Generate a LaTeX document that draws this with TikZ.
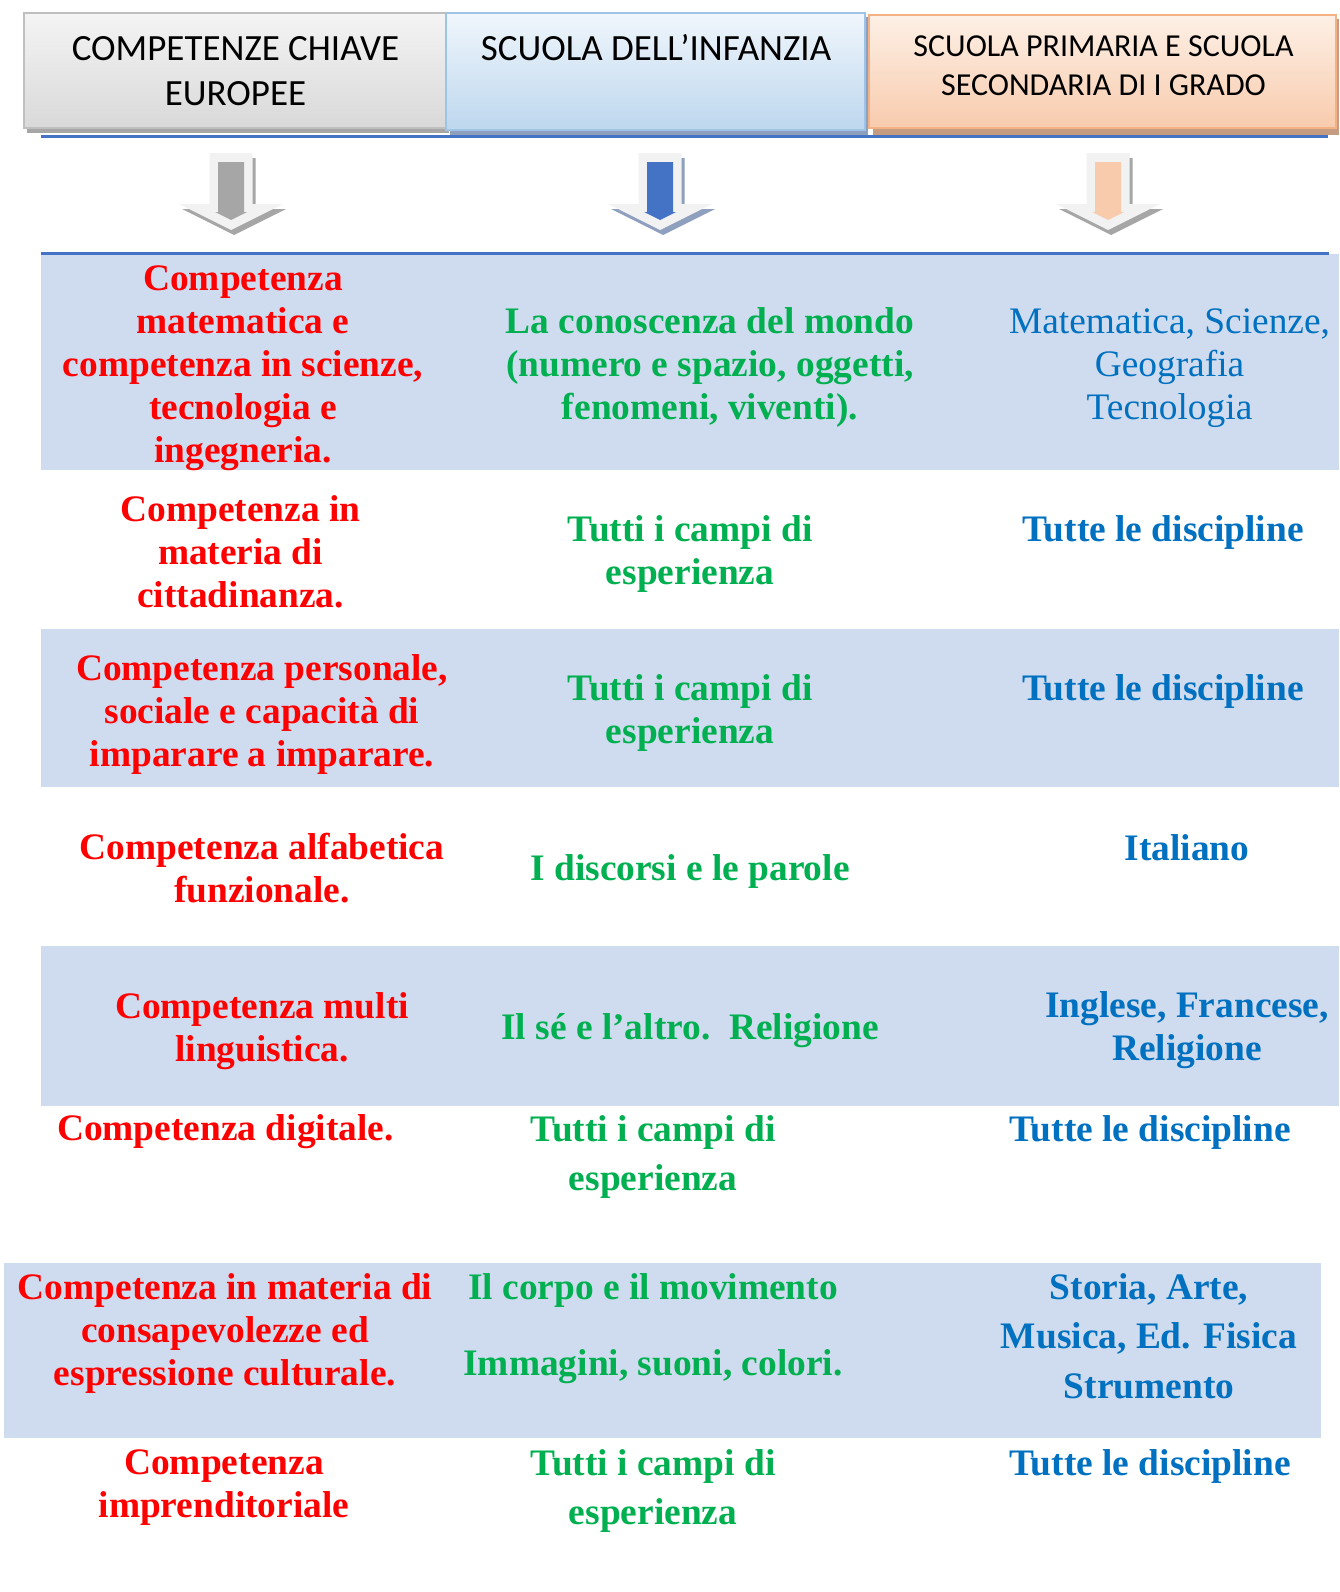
\documentclass[tikz,border=0pt]{standalone}
\usepackage{fontspec}
\setmainfont{Liberation Serif}
\newfontfamily\hdrfont{Carlito}
\definecolor{cred}{HTML}{FF0000}
\definecolor{cgreen}{HTML}{00B050}
\definecolor{cblue}{HTML}{0070C0}
\definecolor{band}{RGB}{207,219,238}
\definecolor{rule}{HTML}{4472C4}
\definecolor{arrowbg}{HTML}{F2F2F2}
\definecolor{shgray}{RGB}{166,166,166}
\definecolor{shblue}{RGB}{142,160,190}
\definecolor{shbrown}{RGB}{197,156,130}
\definecolor{peach}{RGB}{248,203,173}
\definecolor{hAtop}{RGB}{244,244,244}
\definecolor{hAbot}{RGB}{217,217,217}
\definecolor{hAbrd}{RGB}{191,191,191}
\definecolor{hBtop}{RGB}{240,246,252}
\definecolor{hBbot}{RGB}{189,215,238}
\definecolor{hBbrd}{RGB}{157,195,230}
\definecolor{hCtop}{RGB}{253,240,230}
\definecolor{hCbot}{RGB}{248,203,173}
\definecolor{hCbrd}{RGB}{244,177,131}
\newcommand\myarrow[3]{%
  \begin{scope}[shift={(#1,0)}]
    \fill[#2] (-18.5,158) -- (24.5,158) -- (24.5,209) -- (55,209) -- (3,235) -- (-49,209) -- (-18.5,209) -- cycle;
    \fill[arrowbg] (-21.5,153) -- (21.5,153) -- (21.5,204) -- (52,204) -- (0,230) -- (-52,204) -- (-21.5,204) -- cycle;
    \fill[#3] (-13,162) -- (13,162) -- (13,212) -- (16,212) -- (0,220) -- (-16,212) -- (-13,212) -- cycle;
  \end{scope}}
\begin{document}
\begin{tikzpicture}[x=1pt,y=-1pt,
  every node/.style={inner sep=0pt},
  kc/.style={text=cred, align=center, font=\bfseries\fontsize{37.4}{43}\selectfont},
  inf/.style={text=cgreen, align=center, font=\bfseries\fontsize{37.4}{43}\selectfont},
  infw/.style={text=cgreen, align=center, font=\bfseries\fontsize{37.4}{49.7}\selectfont},
  prim/.style={text=cblue, align=center, font=\bfseries\fontsize{37.4}{43}\selectfont},
  primw/.style={text=cblue, align=center, font=\bfseries\fontsize{37.4}{49.7}\selectfont},
  primreg/.style={text=cblue, align=center, font=\fontsize{37.4}{43}\selectfont},
  hdr/.style={text=black, align=center, font=\hdrfont\fontsize{37}{45}\selectfont},
  hdrs/.style={text=black, align=center, font=\hdrfont\fontsize{32}{38.6}\selectfont}]
\useasboundingbox (0,0) rectangle (1339,1592);
\fill[white] (0,0) rectangle (1339,1592);
% header shadows
\fill[shgray] (27,17) rectangle (449,133);
\fill[shblue] (450,17) rectangle (868,135);
\fill[shbrown] (873,19) rectangle (1339,135);
% header boxes
\shade[top color=hAtop, bottom color=hAbot] (24,13) rectangle (446,128);
\draw[hAbrd, line width=2pt] (24,13) rectangle (446,128);
\shade[top color=hBtop, bottom color=hBbot] (446,13) rectangle (865,130);
\draw[hBbrd, line width=2pt] (446,13) rectangle (865,130);
\shade[top color=hCtop, bottom color=hCbot] (869,15) rectangle (1336,128);
\draw[hCbrd, line width=2pt] (869,15) rectangle (1336,128);
\node[hdr] (h1) at (235.5,71) {COMPETENZE CHIAVE\\EUROPEE};
\node[hdr] (h2) at (656,48) {SCUOLA DELL’INFANZIA};
\node[hdrs] (h3) at (1103.5,66) {SCUOLA PRIMARIA E SCUOLA\\SECONDARIA DI I GRADO};
% rule lines
\draw[rule, line width=3pt] (41,137) -- (1328,137);
% arrows
\myarrow{231}{shgray}{shgray}
\myarrow{660}{shblue}{rule}
\myarrow{1108}{shgray}{peach}
% bands
\fill[band] (41,254) rectangle (1339,470);
\fill[band] (41,629) rectangle (1339,787);
\fill[band] (41,946) rectangle (1339,1106);
\fill[band] (4,1263) rectangle (1321,1438);
\draw[rule, line width=3pt] (41,253) -- (1329,253);
% row 1
\node[kc] (r1) at (243,368) {Competenza\\matematica e\\competenza in scienze,\\tecnologia e\\ingegneria.};
\node[inf] (g1) at (710,368) {La conoscenza del mondo\\(numero e spazio, oggetti,\\fenomeni, viventi).};
\node[primreg] (b1) at (1169.5,368) {Matematica, Scienze,\\Geografia\\Tecnologia};
% row 2
\node[kc] (r2) at (240.6,551.5) {Competenza in\\materia di\\cittadinanza.};
\node[inf] (g2) at (690,554) {Tutti i campi di\\esperienza};
\node[prim] (b2) at (1163,533) {Tutte le discipline};
% row 3
\node[kc] (r3) at (262,714) {Competenza personale,\\sociale e capacità di\\imparare a imparare.};
\node[inf] (g3) at (690,713) {Tutti i campi di\\esperienza};
\node[prim] (b3) at (1163,691) {Tutte le discipline};
% row 4
\node[kc] (r4) at (262,868.5) {Competenza alfabetica\\funzionale.};
\node[inf] (g4) at (690,871) {I discorsi e le parole};
\node[prim] (b4) at (1187,847.5) {Italiano};
% row 5
\node[kc] (r5) at (262,1031) {Competenza multi\\linguistica.};
\node[inf] (g5) at (690,1031) {Il sé e l’altro.\ \ Religione};
\node[prim] (b5) at (1187,1030.5) {Inglese, Francese,\\Religione};
% row 6
\node[kc] (r6) at (225.4,1132) {Competenza digitale.};
\node[infw] (g6) at (653,1157) {Tutti i campi di\\esperienza};
\node[prim] (b6) at (1150,1132) {Tutte le discipline};
% row 7
\node[kc] (r7) at (225,1333) {Competenza in materia di\\consapevolezze ed\\espressione culturale.};
\node[inf] (g7a) at (653,1290) {Il corpo e il movimento};
\node[inf] (g7b) at (653,1367) {Immagini, suoni, colori.};
\node[primw] (b7) at (1149,1336) {Storia, Arte,\\Musica, Ed. Fisica\\Strumento};
% row 8
\node[kc] (r8) at (224,1488) {Competenza\\imprenditoriale};
\node[infw] (g8) at (653,1491) {Tutti i campi di\\esperienza};
\node[prim] (b8) at (1150,1466.5) {Tutte le discipline};
\end{tikzpicture}
\end{document}
